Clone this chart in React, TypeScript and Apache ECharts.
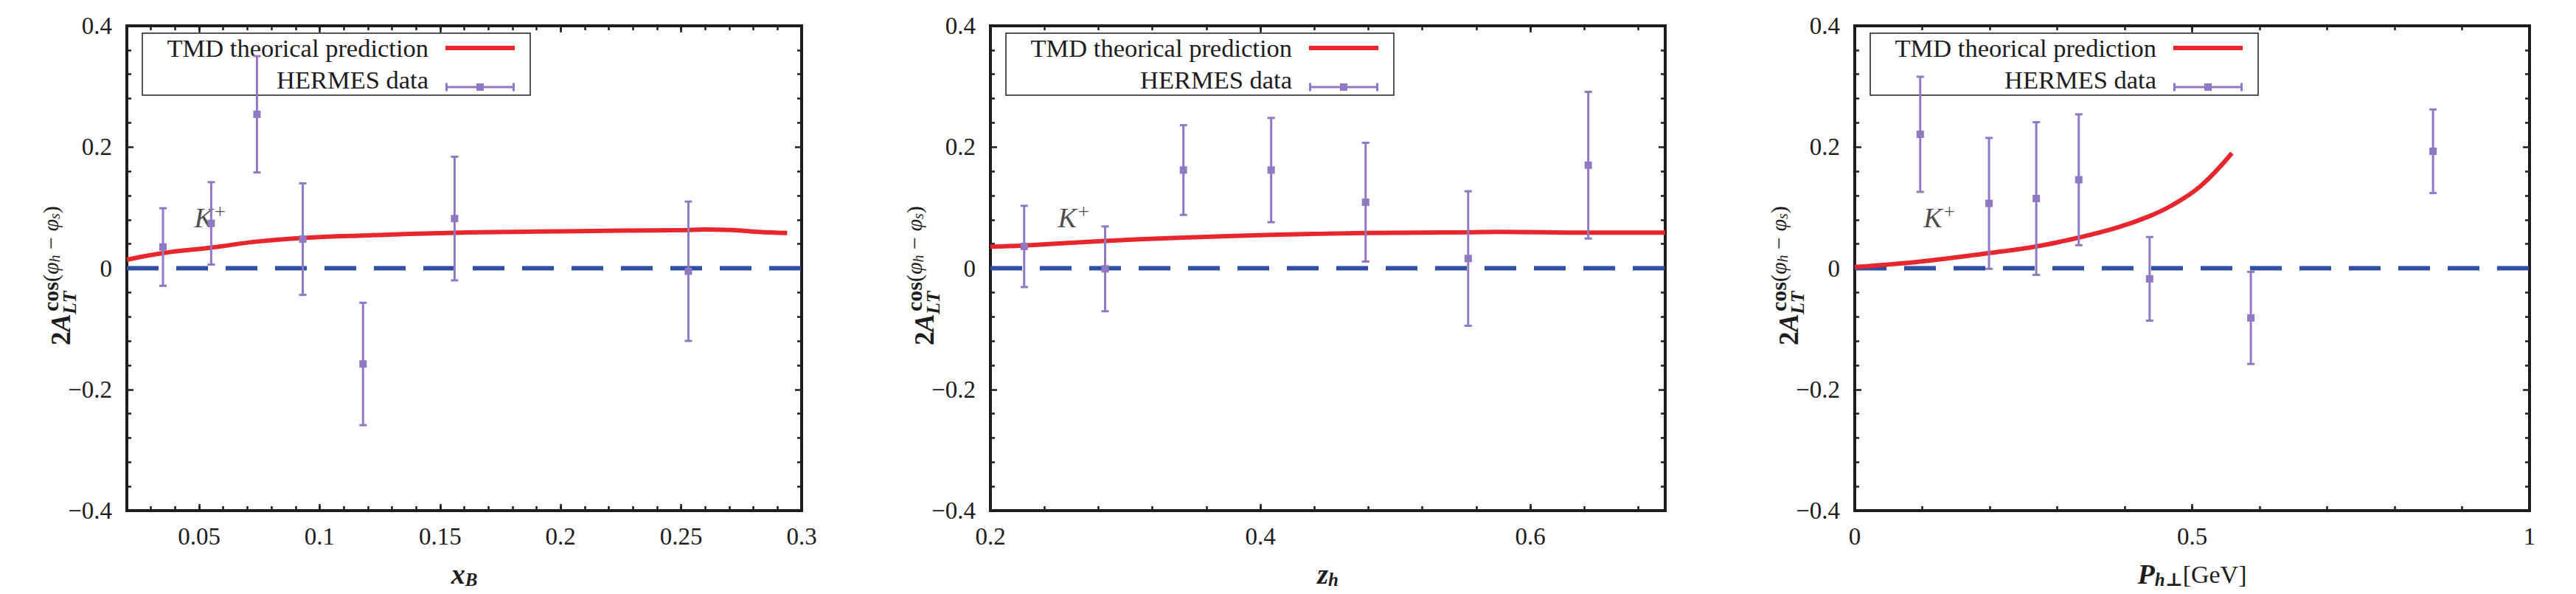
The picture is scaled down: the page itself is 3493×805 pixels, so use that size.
import React, { useEffect, useRef } from "react";
import * as echarts from "echarts";

const RED = "#e8262d";
const PURPLE = "#9178c2";
const BLUE = "#2d4fa3";
const INK = "#1e1c1d";
const SERIF = "'Liberation Serif', 'DejaVu Serif', serif";

// panel 1: x_B
const xbPointX = [0.035, 0.055, 0.074, 0.093, 0.118, 0.156, 0.253];
const xbPointY = [0.035, 0.074, 0.254, 0.048, -0.158, 0.082, -0.005];
const xbErr = [0.064, 0.068, 0.096, 0.092, 0.101, 0.102, 0.115];
const xbCurveX = [0.02, 0.035, 0.055, 0.074, 0.093, 0.118, 0.156, 0.192, 0.225, 0.253, 0.26, 0.271, 0.282, 0.294];
const xbCurveY = [0.014, 0.025, 0.034, 0.044, 0.05, 0.054, 0.0585, 0.0605, 0.062, 0.063, 0.064, 0.063, 0.06, 0.058];
const xbTicks = [0.05, 0.1, 0.15, 0.2, 0.25, 0.3];

// panel 2: z_h
const zhPointX = [0.225, 0.285, 0.343, 0.408, 0.478, 0.554, 0.643];
const zhPointY = [0.036, -0.001, 0.162, 0.162, 0.109, 0.016, 0.17];
const zhErr = [0.067, 0.07, 0.074, 0.086, 0.098, 0.111, 0.121];
const zhCurveX = [0.2, 0.225, 0.285, 0.343, 0.408, 0.478, 0.554, 0.575, 0.643, 0.7];
const zhCurveY = [0.0355, 0.0375, 0.045, 0.0505, 0.055, 0.058, 0.0593, 0.06, 0.0587, 0.0587];
const zhTicks = [0.2, 0.4, 0.6];

// panel 3: P_h⊥
const ptPointX = [0.097, 0.199, 0.269, 0.332, 0.437, 0.587, 0.857];
const ptPointY = [0.221, 0.107, 0.115, 0.146, -0.0175, -0.082, 0.193];
const ptErr = [0.095, 0.108, 0.126, 0.108, 0.069, 0.076, 0.069];
const ptCurveX = [0, 0.097, 0.199, 0.269, 0.332, 0.389, 0.437, 0.472, 0.513, 0.559];
const ptCurveY = [0.002, 0.011, 0.025, 0.036, 0.0505, 0.067, 0.086, 0.105, 0.136, 0.19];
const ptTicks = [0, 0.5, 1];

const kLabelX = [0.048, 0.25, 0.102];
const kLabelY = 0.083;

const CHART_W = 3493;
const CHART_H = 805;
const GRID_LEFTS = [172, 1343, 2515];
const GRID_W = 915;
const GRID_TOP = 35;
const GRID_H = 657;

const LEGEND_LINE = "path://M0,0L94,0L94,6L0,6Z";
// the empty sub-path at the top only widens the bounding box so the bar sits lower
const LEGEND_ERR =
  "path://M47,-20L47.01,-20Z M0,0L3,0L3,11L0,11Z M91,0L94,0L94,11L91,11Z M0,4L94,4L94,7L0,7Z M42,0.5L52,0.5L52,10.5L42,10.5Z";

const minorTicks = (from: number, to: number, step: number) => {
  const out: number[] = [];
  for (let v = from; v <= to + 1e-9; v += step) out.push(+v.toFixed(4));
  return out;
};

const panels = [
  {
    min: 0.02, max: 0.3, majors: xbTicks, minors: minorTicks(0.02, 0.3, 0.01),
    px: xbPointX, py: xbPointY, pe: xbErr, cx: xbCurveX, cy: xbCurveY,
    name: "{b|x}{s|B}",
  },
  {
    min: 0.2, max: 0.7, majors: zhTicks, minors: minorTicks(0.2, 0.7, 0.04),
    px: zhPointX, py: zhPointY, pe: zhErr, cx: zhCurveX, cy: zhCurveY,
    name: "{b|z}{s|h}",
  },
  {
    min: 0, max: 1, majors: ptTicks, minors: minorTicks(0, 1, 0.1),
    px: ptPointX, py: ptPointY, pe: ptErr, cx: ptCurveX, cy: ptCurveY,
    name: "{b|P}{s|h⊥}{n|[GeV]}",
  },
];

const num = (v: number) => {
  const s = String(+v.toFixed(3));
  return v < 0 ? "−" + s.slice(1) : s;
};

const errorBar = (params: any, api: any) => {
  const x = api.value(0);
  const y = api.value(1);
  const e = api.value(2);
  const top = api.coord([x, y + e]);
  const bot = api.coord([x, y - e]);
  const mid = api.coord([x, y]);
  const style = { stroke: PURPLE, lineWidth: 3 };
  return {
    type: "group",
    children: [
      { type: "line", shape: { x1: top[0], y1: top[1], x2: bot[0], y2: bot[1] }, style },
      { type: "line", shape: { x1: top[0] - 5, y1: top[1], x2: top[0] + 5, y2: top[1] }, style },
      { type: "line", shape: { x1: bot[0] - 5, y1: bot[1], x2: bot[0] + 5, y2: bot[1] }, style },
      { type: "rect", shape: { x: mid[0] - 5, y: mid[1] - 5, width: 10, height: 10 }, style: { fill: PURPLE } },
    ],
  };
};

const zeroLine = (params: any, api: any) => {
  const a = api.coord([api.value(0), api.value(2)]);
  const b = api.coord([api.value(1), api.value(2)]);
  return {
    type: "line",
    shape: { x1: a[0], y1: a[1], x2: b[0], y2: b[1] },
    style: { stroke: BLUE, lineWidth: 6, lineDash: [43, 24] },
  };
};

const buildOption = () => {
  const grid: any[] = [];
  const xAxis: any[] = [];
  const yAxis: any[] = [];
  const series: any[] = [];
  const legend: any[] = [];
  const graphic: any[] = [];

  const axisLine = { show: true, onZero: false, lineStyle: { color: INK, width: 4, cap: "square" } };
  const noLine = { show: false, onZero: false };
  const tickStyle = { color: INK, width: 2.5 };
  const labelStyle = { fontSize: 33, fontFamily: SERIF, color: INK };

  panels.forEach((p, g) => {
    grid.push({ left: GRID_LEFTS[g], top: GRID_TOP, width: GRID_W, height: GRID_H });

    const base = { type: "value", gridIndex: g, min: p.min, max: p.max, splitLine: { show: false } };
    xAxis.push({
      ...base,
      position: "bottom",
      axisLine,
      axisTick: { inside: true, length: 9, customValues: p.majors, lineStyle: tickStyle },
      axisLabel: { ...labelStyle, customValues: p.majors, formatter: num, margin: 18 },
      name: p.name,
      nameLocation: "middle",
      nameGap: 66,
      nameTextStyle: {
        rich: {
          b: { fontSize: 38, fontFamily: SERIF, fontWeight: "bold", fontStyle: "italic", color: INK },
          s: { fontSize: 25, fontFamily: SERIF, fontWeight: "bold", fontStyle: "italic", color: INK, padding: [15, 0, 0, 0] },
          n: { fontSize: 34, fontFamily: SERIF, color: INK },
        },
      },
    });
    xAxis.push({
      ...base,
      position: "bottom",
      axisLine: noLine,
      axisTick: { inside: true, length: 6, customValues: p.minors, lineStyle: tickStyle },
      axisLabel: { show: false },
    });
    xAxis.push({
      ...base,
      position: "top",
      axisLine,
      axisTick: { inside: true, length: 9, customValues: p.majors, lineStyle: tickStyle },
      axisLabel: { show: false },
    });
    xAxis.push({
      ...base,
      position: "top",
      axisLine: noLine,
      axisTick: { inside: true, length: 6, customValues: p.minors, lineStyle: tickStyle },
      axisLabel: { show: false },
    });

    const yBase = {
      type: "value",
      gridIndex: g,
      min: -0.4,
      max: 0.4,
      interval: 0.2,
      axisLine,
      splitLine: { show: false },
      axisTick: { inside: true, length: 9, lineStyle: tickStyle },
      minorTick: { show: true, splitNumber: 5, length: 6, lineStyle: tickStyle },
    };
    yAxis.push({ ...yBase, position: "left", axisLabel: { ...labelStyle, formatter: num, margin: 20 } });
    yAxis.push({ ...yBase, position: "right", axisLabel: { show: false } });

    const xi = g * 4;
    const yi = g * 2;
    series.push({
      type: "custom",
      xAxisIndex: xi,
      yAxisIndex: yi,
      data: [[p.min, p.max, 0]],
      encode: { x: [0, 1], y: 2 },
      renderItem: zeroLine,
      silent: true,
      z: 2,
    });
    series.push({
      name: "TMD theorical prediction",
      type: "line",
      xAxisIndex: xi,
      yAxisIndex: yi,
      data: p.cx.map((x, i) => [x, p.cy[i]]),
      smooth: 0.4,
      symbol: "none",
      color: RED,
      lineStyle: { color: RED, width: 6 },
      z: 3,
    });
    series.push({
      name: "HERMES data",
      type: "custom",
      xAxisIndex: xi,
      yAxisIndex: yi,
      data: p.px.map((x, i) => [x, p.py[i], p.pe[i]]),
      encode: { x: 0, y: 1 },
      renderItem: errorBar,
      itemStyle: { color: PURPLE },
      z: 6,
    });
    series.push({
      type: "scatter",
      xAxisIndex: xi,
      yAxisIndex: yi,
      data: [[kLabelX[g], kLabelY]],
      symbolSize: 0,
      silent: true,
      label: {
        show: true,
        position: "right",
        distance: 0,
        formatter: "{k|K}{p|+}",
        rich: {
          k: { fontSize: 38, fontFamily: SERIF, fontStyle: "italic", color: INK },
          p: { fontSize: 27, fontFamily: SERIF, color: INK, padding: [0, 0, 16, 2] },
        },
      },
    });

    legend.push({
      orient: "vertical",
      right: CHART_W - (GRID_LEFTS[g] + 526),
      top: 45,
      align: "right",
      itemWidth: 94,
      itemHeight: 40,
      itemGap: 3,
      padding: 0,
      selectedMode: false,
      itemStyle: { borderWidth: 0 },
      textStyle: { fontSize: 34.5, fontFamily: SERIF, color: INK, lineHeight: 40, padding: [0, 18, 0, 0] },
      data: [
        { name: "TMD theorical prediction", icon: LEGEND_LINE },
        { name: "HERMES data", icon: LEGEND_ERR },
      ],
    });

    graphic.push({
      type: "rect",
      z: 3,
      silent: true,
      shape: { x: GRID_LEFTS[g] + 21, y: 45, width: 526, height: 84 },
      style: { fill: "#fff", stroke: INK, lineWidth: 1.5 },
    });

    const t = { fontFamily: SERIF, fill: INK, verticalAlign: "middle" };
    graphic.push({
      type: "group",
      x: GRID_LEFTS[g] - 90,
      y: 468,
      rotation: Math.PI / 2,
      children: [
        { type: "text", style: { ...t, text: "2", x: 0, y: 0, fontSize: 37, fontWeight: "bold" } },
        { type: "text", style: { ...t, text: "A", x: 18, y: 0, fontSize: 37, fontWeight: "bold", fontStyle: "italic" } },
        { type: "text", style: { ...t, text: "LT", x: 42, y: 12, fontSize: 26, fontWeight: "bold", fontStyle: "italic" } },
        {
          type: "text",
          style: {
            ...t,
            text: "{c|cos}{p|(}{f|φ}{s|h}{p| − }{f|φ}{s|s}{p|)}",
            x: 46,
            y: -14,
            fontSize: 30,
            rich: {
              c: { fontSize: 30, fontWeight: "bold", fontFamily: SERIF, fill: INK },
              p: { fontSize: 30, fontFamily: SERIF, fill: INK },
              f: { fontSize: 30, fontStyle: "italic", fontFamily: SERIF, fill: INK },
              s: { fontSize: 20, fontStyle: "italic", fontFamily: SERIF, fill: INK, padding: [12, 0, 0, 0] },
            },
          },
        },
      ],
    });
  });

  return {
    animation: false,
    backgroundColor: "#fff",
    textStyle: { fontFamily: SERIF },
    grid,
    xAxis,
    yAxis,
    series,
    legend,
    graphic,
  };
};

const App: React.FC = () => {
  const chartRef = useRef<HTMLDivElement>(null);

  useEffect(() => {
    if (!chartRef.current) return;
    const chart = echarts.init(chartRef.current, null, { renderer: "svg" });
    chart.setOption(buildOption() as any);
    return () => chart.dispose();
  }, []);

  return (
    <div
      ref={chartRef}
      style={{ position: "fixed", left: 0, top: 0, width: CHART_W + "px", height: CHART_H + "px", background: "#fff" }}
    />
  );
};

export default App;
